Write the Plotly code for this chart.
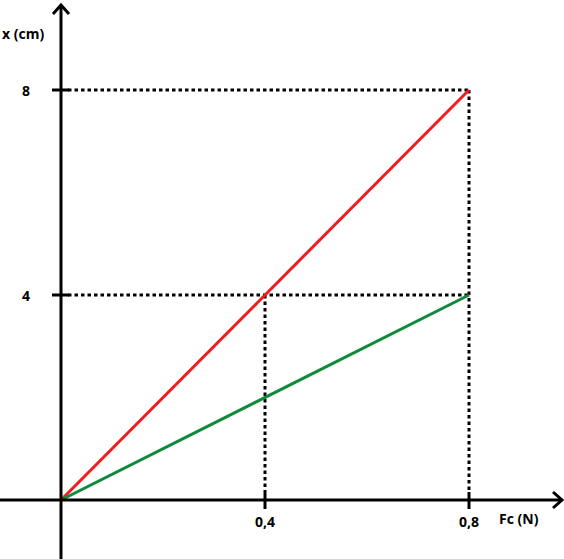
import plotly.graph_objects as go

# Data
forces = [0, 0.4, 0.8]                 # Fc (N)
red_x = [0, 4, 8]                      # x (cm), red spring
green_x = [0, 2, 4]                    # x (cm), green spring
x_ticks = [0.4, 0.8]
x_tick_labels = ["0,4", "0,8"]
y_ticks = [4, 8]
y_tick_labels = ["4", "8"]

W, H = 564, 559
OX, OY = 61, 500          # origin in pixels
SX, SY = 510.0, 51.25     # pixels per unit

def px2x(px):
    return (px - OX) / SX

def py2y(py):
    return (OY - py) / SY

fig = go.Figure()

fig.add_trace(go.Scatter(x=forces, y=red_x, mode="lines",
                         line=dict(color="#ef1d21", width=3), hoverinfo="skip"))
fig.add_trace(go.Scatter(x=forces, y=green_x, mode="lines",
                         line=dict(color="#0d8a3b", width=3), hoverinfo="skip"))

shapes = []
dot = dict(color="black", width=3, dash="3.5px,3px")
# dotted guide lines
for yv in y_ticks:
    shapes.append(dict(type="line", x0=px2x(68), x1=forces[-1], y0=yv, y1=yv, line=dot, layer="below"))
shapes.append(dict(type="line", x0=forces[-1], x1=forces[-1], y0=red_x[-1], y1=py2y(492), line=dot, layer="below"))
shapes.append(dict(type="line", x0=forces[1], x1=forces[1], y0=red_x[1], y1=py2y(492), line=dot, layer="below"))

axis_line = dict(color="black", width=3)
# axes
shapes.append(dict(type="line", x0=0, x1=0, y0=py2y(560), y1=py2y(5), line=axis_line))
shapes.append(dict(type="line", x0=px2x(0), x1=px2x(561), y0=0, y1=0, line=axis_line))
# arrow heads
shapes.append(dict(type="path",
                   path=f"M {px2x(53)} {py2y(14)} L {px2x(61)} {py2y(5)} L {px2x(69)} {py2y(14)}",
                   line=axis_line))
shapes.append(dict(type="path",
                   path=f"M {px2x(553)} {py2y(492)} L {px2x(562)} {py2y(500)} L {px2x(553)} {py2y(508)}",
                   line=axis_line))
# ticks
for xv in x_ticks:
    shapes.append(dict(type="line", x0=xv, x1=xv, y0=py2y(492), y1=py2y(509), line=axis_line))
for yv in y_ticks:
    shapes.append(dict(type="line", x0=px2x(52), x1=px2x(69), y0=yv, y1=yv, line=axis_line))

font = dict(family="Open Sans", size=14, color="black")
annotations = []
for xv, lab in zip(x_ticks, x_tick_labels):
    annotations.append(dict(x=xv, y=py2y(521), text=f"<b>{lab}</b>", showarrow=False, font=font))
for yv, lab in zip(y_ticks, y_tick_labels):
    annotations.append(dict(x=px2x(26), y=yv, text=f"<b>{lab}</b>", showarrow=False, font=font))
annotations.append(dict(x=px2x(519), y=py2y(518), text="<b>Fc (N)</b>", showarrow=False, font=font))
annotations.append(dict(x=px2x(23), y=py2y(33), text="<b>x (cm)</b>", showarrow=False, font=font))

fig.update_layout(
    width=W, height=H,
    margin=dict(l=0, r=0, t=0, b=0),
    paper_bgcolor="white", plot_bgcolor="white",
    showlegend=False,
    xaxis=dict(range=[px2x(0), px2x(W)], visible=False, fixedrange=True),
    yaxis=dict(range=[py2y(H), py2y(0)], visible=False, fixedrange=True),
    shapes=shapes, annotations=annotations,
)

fig.write_html("out.html", config=dict(displayModeBar=False),
               post_script="document.body.style.margin='0';document.body.style.overflow='hidden';")
